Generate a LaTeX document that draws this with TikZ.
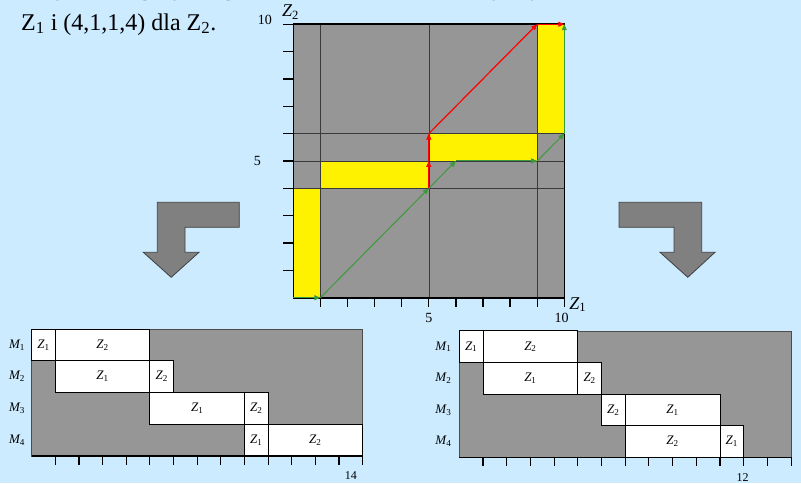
\documentclass[tikz,border=0pt]{standalone}
\usepackage{fontspec}
\setmainfont{Liberation Serif}
\usetikzlibrary{arrows.meta}
\definecolor{bgblue}{HTML}{CCEBFF}
\definecolor{chartgray}{HTML}{969696}
\definecolor{blockgray}{HTML}{808080}
\definecolor{gridline}{HTML}{3A3A3A}
\definecolor{pathgreen}{HTML}{3C9A3C}
\definecolor{pathred}{HTML}{FF0000}
\newcommand{\Zi}[1]{{\itshape Z}\textsubscript{#1}}
\newcommand{\Mi}[1]{{\itshape M}\textsubscript{#1}}
\tikzset{
  forbid/.style={fill=yellow, draw=black!80, line width=0.5pt},
  gridln/.style={draw=gridline, line width=0.6pt},
  frame/.style={draw=black, line width=1.6pt},
  tickln/.style={draw=black, line width=1.3pt},
  greenarr/.style={draw=pathgreen, line width=1pt, -{Triangle[length=6pt,width=5pt]}},
  redarr/.style={draw=pathred, line width=1.2pt, -{Triangle[length=6pt,width=5pt]}},
  blockarrow/.style={fill=blockgray, draw=black!75, line width=0.8pt},
  opbox/.style={fill=white, draw=black, line width=1pt},
  oplabel/.style={font=\fontsize{13}{15}\selectfont, inner sep=0pt},
  mlabel/.style={font=\fontsize{13}{15}\selectfont, inner sep=0pt},
  ticklabel/.style={font=\fontsize{12}{14}\selectfont, inner sep=0pt},
  bigticklabel/.style={font=\fontsize{14}{16}\selectfont, inner sep=0pt},
  axlabel/.style={font=\fontsize{18}{20}\selectfont, inner sep=0pt},
  bigtext/.style={font=\fontsize{24}{28}\selectfont, inner sep=0pt, anchor=base west},
}
\begin{document}
\begin{tikzpicture}[x=1pt,y=-1pt]
\fill[bgblue] (0,0) rectangle (801,483);
\useasboundingbox (0,0) rectangle (801,483);

% top text
\node[bigtext] (line0) at (20,-5) {\scalebox{1.08}[1]{Przykład reguły na grafie: m = 4, n = 2. Czasy wykonania to (1,4,4,1) dla}};
\node[bigtext] (line1) at (21,30) {Z\textsubscript{1} i (4,1,1,4) dla Z\textsubscript{2}.};

% ---------------- top chart ----------------
\begin{scope}[shift={(293.3pt,-297.7pt)}, x=27.1pt, y=27.35pt]
  \fill[chartgray] (0,0) rectangle (10,10);
  \path[forbid] (0,0) rectangle (1,4);
  \path[forbid] (1,4) rectangle (5,5);
  \path[forbid] (5,5) rectangle (9,6);
  \path[forbid] (9,6) rectangle (10,10);
  \foreach \gx in {1,5,9} \draw[gridln] (\gx,0) -- (\gx,10);
  \foreach \gy in {4,5,6} \draw[gridln] (0,\gy) -- (10,\gy);
  \draw[frame] (0,0) rectangle (10,10);
  \foreach \t in {1,...,10} \draw[tickln] (\t,0) -- (\t,-0.33);
  \foreach \t in {1,...,10} \draw[tickln] (0,\t) -- (-0.37,\t);
  \node[bigticklabel] (xl5) at (5,-0.75) {5};
  \node[bigticklabel] (xl10) at (9.9,-0.75) {10};
  \node[bigticklabel] (yl5) at (-1.33,5) {5};
  \node[bigticklabel] (yl10) at (-1.05,10.15) {10};
  \node[axlabel] (z1ax) at (10.5,-0.25) {\Zi{1}};
  \node[axlabel] (z2ax) at (-0.1,10.45) {\Zi{2}};
  % path points
  \coordinate (g0) at (0,0);
  \coordinate (g1) at (1,0);
  \coordinate (g2) at (5,4);
  \coordinate (g3) at (6,5);
  \coordinate (g4) at (9,5);
  \coordinate (g5) at (10,6);
  \coordinate (g6) at (10,10);
  \coordinate (r1) at (5,5);
  \coordinate (r2) at (5,6);
  \coordinate (r3) at (9,10);
  \draw[greenarr] (g0) -- (g1);
  \draw[greenarr] (g1) -- (g2);
  \draw[greenarr] (g2) -- (g3);
  \draw[greenarr] (g3) -- (g4);
  \draw[greenarr] (g4) -- (g5);
  \draw[greenarr] (g5) -- (g6);
  \draw[redarr] (g2) -- (r1);
  \draw[redarr] (r1) -- (r2);
  \draw[redarr] (r2) -- (r3);
  \draw[redarr] (r3) -- (g6);
\end{scope}

% ---------------- block arrows ----------------
\path[blockarrow] (157.3,202.3) -- (239.3,202.3) -- (239.3,227.3) -- (185,227.3) -- (185,252.3) -- (199,252.3) -- (171.2,277.3) -- (143.3,252.3) -- (157.3,252.3) -- cycle;
\path[blockarrow] (619,202.3) -- (701.7,202.3) -- (701.7,252.3) -- (715,252.3) -- (687.8,277.3) -- (660,252.3) -- (674,252.3) -- (674,227.3) -- (619,227.3) -- cycle;

% ---------------- left Gantt ----------------
\begin{scope}[shift={(31.7pt,-456pt)}, x=23.64pt, y=31.75pt]
  \path[fill=chartgray, draw=black!70, line width=0.6pt] (0,0) rectangle (14,4);
  % M1
  \path[opbox] (0,3) rectangle (1,4);  \node[oplabel] (la11) at (0.5,3.5) {\Zi{1}};
  \path[opbox] (1,3) rectangle (5,4);  \node[oplabel] (la12) at (3,3.5) {\Zi{2}};
  % M2
  \path[opbox] (1,2) rectangle (5,3);  \node[oplabel] (la21) at (3,2.5) {\Zi{1}};
  \path[opbox] (5,2) rectangle (6,3);  \node[oplabel] (la22) at (5.5,2.5) {\Zi{2}};
  % M3
  \path[opbox] (5,1) rectangle (9,2);  \node[oplabel] (la31) at (7,1.5) {\Zi{1}};
  \path[opbox] (9,1) rectangle (10,2); \node[oplabel] (la32) at (9.5,1.5) {\Zi{2}};
  % M4
  \path[opbox] (9,0) rectangle (10,1); \node[oplabel] (la41) at (9.5,0.5) {\Zi{1}};
  \path[opbox] (10,0) rectangle (14,1);\node[oplabel] (la42) at (12,0.5) {\Zi{2}};
  \draw[tickln] (0,0) -- (14,0);
  \foreach \t in {1,...,14} \draw[line width=1.1pt] (\t,0) -- (\t,-0.28);
  \node[ticklabel] (lt14) at (13.5,-0.63) {14};
  \node[mlabel] (lm1) at (-0.62,3.5) {\Mi{1}};
  \node[mlabel] (lm2) at (-0.62,2.5) {\Mi{2}};
  \node[mlabel] (lm3) at (-0.62,1.5) {\Mi{3}};
  \node[mlabel] (lm4) at (-0.62,0.5) {\Mi{4}};
\end{scope}

% ---------------- right Gantt ----------------
\begin{scope}[shift={(459.3pt,-457.3pt)}, x=23.7pt, y=31.6pt]
  \path[fill=chartgray, draw=black!70, line width=0.6pt] (0,0) rectangle (14,4);
  % M1
  \path[opbox] (0,3) rectangle (1,4);  \node[oplabel] (ra11) at (0.5,3.5) {\Zi{1}};
  \path[opbox] (1,3) rectangle (5,4);  \node[oplabel] (ra12) at (3,3.5) {\Zi{2}};
  % M2
  \path[opbox] (1,2) rectangle (5,3);  \node[oplabel] (ra21) at (3,2.5) {\Zi{1}};
  \path[opbox] (5,2) rectangle (6,3);  \node[oplabel] (ra22) at (5.5,2.5) {\Zi{2}};
  % M3
  \path[opbox] (6,1) rectangle (7,2);  \node[oplabel] (ra32) at (6.5,1.5) {\Zi{2}};
  \path[opbox] (7,1) rectangle (11,2); \node[oplabel] (ra31) at (9,1.5) {\Zi{1}};
  % M4
  \path[opbox] (7,0) rectangle (11,1); \node[oplabel] (ra42) at (9,0.5) {\Zi{2}};
  \path[opbox] (11,0) rectangle (12,1);\node[oplabel] (ra41) at (11.5,0.5) {\Zi{1}};
  \draw[tickln] (0,0) -- (14,0);
  \foreach \t in {1,...,14} \draw[line width=1.1pt] (\t,0) -- (\t,-0.28);
  \node[ticklabel] (rt12) at (11.95,-0.63) {12};
  \node[mlabel] (rm1) at (-0.67,3.5) {\Mi{1}};
  \node[mlabel] (rm2) at (-0.67,2.5) {\Mi{2}};
  \node[mlabel] (rm3) at (-0.67,1.5) {\Mi{3}};
  \node[mlabel] (rm4) at (-0.67,0.5) {\Mi{4}};
\end{scope}
\end{tikzpicture}
\end{document}
